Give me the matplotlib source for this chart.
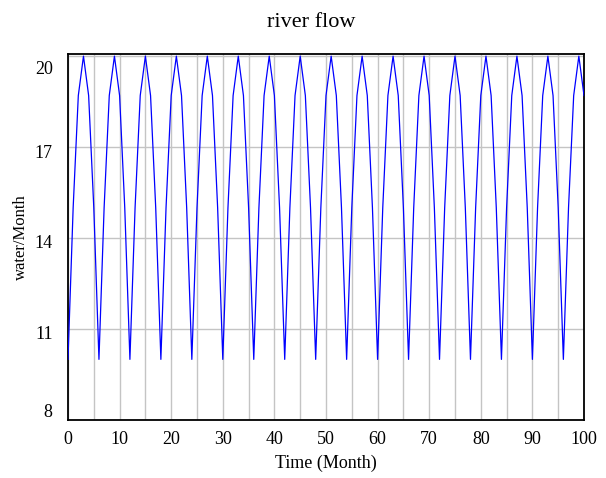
import matplotlib.pyplot as plt
import matplotlib.transforms as mtransforms

# monthly river flow
months = list(range(0, 101))
flow = [
    10, 15, 18.7, 20, 18.7, 15,
    10, 15, 18.7, 20, 18.7, 15,
    10, 15, 18.7, 20, 18.7, 15,
    10, 15, 18.7, 20, 18.7, 15,
    10, 15, 18.7, 20, 18.7, 15,
    10, 15, 18.7, 20, 18.7, 15,
    10, 15, 18.7, 20, 18.7, 15,
    10, 15, 18.7, 20, 18.7, 15,
    10, 15, 18.7, 20, 18.7, 15,
    10, 15, 18.7, 20, 18.7, 15,
    10, 15, 18.7, 20, 18.7, 15,
    10, 15, 18.7, 20, 18.7, 15,
    10, 15, 18.7, 20, 18.7, 15,
    10, 15, 18.7, 20, 18.7, 15,
    10, 15, 18.7, 20, 18.7, 15,
    10, 15, 18.7, 20, 18.7, 15,
    10, 15, 18.7, 20, 18.7,
]

x_ticks = [0, 10, 20, 30, 40, 50, 60, 70, 80, 90, 100]
x_grid = [5, 15, 25, 35, 45, 55, 65, 75, 85, 95]
y_ticks = [8, 11, 14, 17, 20]

plt.rcParams["font.family"] = ["Liberation Serif", "DejaVu Serif"]

fig = plt.figure(figsize=(6.06, 4.78), dpi=100)
ax = fig.add_axes([0.1122, 0.1213, 0.8515, 0.7657])

ax.plot(months, flow, color="#0000ff", linewidth=0.9, zorder=3)

ax.set_xlim(0, 100)
ax.set_ylim(8, 20.07)
ax.set_xticks(x_ticks)
ax.set_xticks(x_grid, minor=True)
ax.set_yticks(y_ticks)
ax.grid(True, which="both", color="#c4c4c4", linewidth=1.0, zorder=1)
ax.tick_params(which="both", length=0, labelsize=13, colors="black")
ax.tick_params(axis="x", pad=8)
ax.tick_params(axis="y", pad=11)

for side in ax.spines.values():
    side.set_linewidth(1.3)
    side.set_color("black")

# labels sit a little below their grid lines; end labels stay inside the frame
shifts = [10, -3, -3, -4, -11]
for lab, dy in zip(ax.get_yticklabels(), shifts):
    lab.set_transform(lab.get_transform() + mtransforms.ScaledTranslation(0, dy / 100, fig.dpi_scale_trans))

fig.text(0.513, 0.952, "river flow", fontsize=16, ha="center", va="center")
ax.set_xlabel("Time (Month)", fontsize=13, labelpad=5)
ax.set_ylabel("water/Month", fontsize=12, labelpad=4)

fig.savefig("out.png", dpi=100)
